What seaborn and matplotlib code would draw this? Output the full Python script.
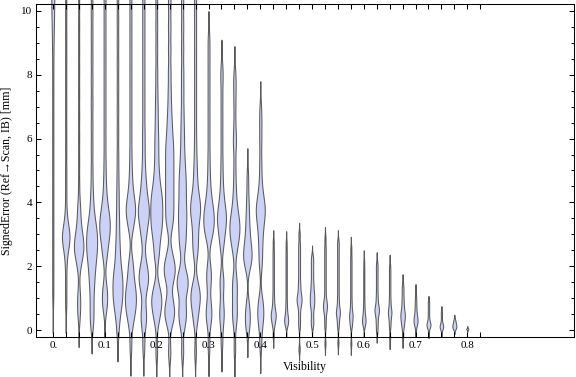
import numpy as np
import matplotlib
matplotlib.use("Agg")
import matplotlib.pyplot as plt
import seaborn as sns
from matplotlib.ticker import MultipleLocator

# visibility bins (x categories)
visibility = [0.0, 0.025, 0.05, 0.075, 0.1, 0.125, 0.15, 0.175, 0.2, 0.225, 0.25,
              0.275, 0.3, 0.325, 0.35, 0.375, 0.4, 0.425, 0.45, 0.475, 0.5, 0.525,
              0.55, 0.575, 0.6, 0.625, 0.65, 0.675, 0.7, 0.725, 0.75, 0.775, 0.8]

# signed error samples [mm] per visibility bin
err_v000 = [1.1, 1.9, 2.7, 3.5, 4.3, 5.1, 5.9, 6.7, 7.5, 8.3, 9.0, 9.5, 9.9, 10.2,
            10.5, 10.8, 11.1, 11.5, 12.0, 12.6, 13.2]
err_v025 = [0.8, 1.4, 2.0, 2.4, 2.6, 2.7, 2.8, 2.9, 2.9, 3.0, 3.1, 3.2, 3.4, 3.8,
            4.4, 5.0, 5.7, 6.4, 7.1, 7.8, 8.5, 9.2, 9.9, 10.6, 11.3, 12.0]
err_v050 = [0.35, 0.6, 0.8, 1.0, 1.2, 1.9, 2.1, 2.2, 2.3, 2.4, 2.5, 2.5, 2.6, 2.6,
            2.7, 2.7, 2.8, 2.9, 3.0, 3.1, 3.2, 3.4, 3.6, 3.8, 4.0, 4.6, 5.3, 6.0,
            6.7, 7.4, 8.1, 8.8, 9.5, 10.2, 10.9, 11.6]
err_v075 = [0.15, 0.4, 0.7, 1.0, 1.3, 1.5, 1.7, 1.9, 2.0, 2.2, 2.3, 2.4, 2.5, 2.6,
            2.7, 2.8, 2.9, 3.0, 3.1, 3.2, 3.3, 3.5, 3.7, 4.0, 4.4, 5.0, 5.7, 6.4,
            7.1, 7.8, 8.5, 9.2, 9.9, 10.6, 11.3, 12.0]
err_v100 = [0.65, 0.8, 1.0, 1.2, 1.4, 2.2, 2.4, 2.6, 2.8, 2.9, 3.0, 3.1, 3.2, 3.3,
            3.4, 3.5, 3.6, 3.7, 3.9, 4.1, 4.4, 4.8, 5.3, 5.9, 6.5, 7.1, 7.7, 8.3,
            8.9, 9.5, 10.1, 10.7, 11.3, 12.0]
err_v125 = [-0.1, 0.3, 0.5, 0.7, 0.8, 0.9, 1.0, 1.1, 1.2, 1.3, 1.4, 1.5, 1.6, 1.7,
            1.8, 1.9, 2.1, 2.3, 2.5, 2.7, 3.0, 3.3, 3.6, 4.0, 4.4, 4.9, 5.5, 6.2,
            6.9, 7.6, 8.3, 9.0, 9.7, 10.4, 11.1, 11.8]
err_v150 = [-0.55, 0.1, 0.3, 0.5, 0.6, 0.7, 0.8, 0.9, 1.0, 1.1, 1.2, 1.3, 1.4, 1.6,
            1.8, 2.0, 2.2, 3.1, 3.3, 3.5, 3.6, 3.7, 3.8, 3.9, 4.0, 4.2, 4.4, 4.7,
            5.1, 5.6, 6.2, 6.8, 7.4, 8.0, 8.6, 9.2, 9.8, 10.4, 11.0, 11.7]
err_v175 = [-0.55, 0.1, 0.3, 0.5, 0.7, 1.2, 1.4, 1.5, 1.6, 1.7, 1.8, 2.0, 2.2, 2.8,
            3.0, 3.2, 3.4, 3.5, 3.6, 3.7, 3.8, 3.9, 4.0, 4.2, 4.4, 4.6, 4.9, 5.3,
            5.8, 6.3, 6.9, 7.5, 8.1, 8.7, 9.3, 9.9, 10.5, 11.1, 11.8]
err_v200 = [-0.7, 0.2, 0.4, 0.6, 0.7, 0.8, 0.9, 1.0, 1.1, 1.2, 1.4, 2.2, 2.4, 2.6,
            2.8, 3.0, 3.1, 3.2, 3.3, 3.4, 3.5, 3.6, 3.7, 3.8, 3.9, 4.0, 4.1, 4.2,
            4.3, 4.4, 4.6, 4.8, 5.0, 5.3, 5.6, 5.9, 6.2, 6.6, 7.0, 7.5, 8.1, 8.8,
            9.5, 10.2, 10.9, 11.6]
err_v225 = [-0.7, 0.2, 0.4, 0.5, 0.6, 0.8, 1.0, 1.5, 1.7, 1.8, 1.9, 2.0, 2.2, 2.4,
            3.2, 3.4, 3.6, 3.8, 4.0, 4.2, 4.4, 4.6, 4.8, 5.0, 5.2, 5.4, 5.6, 5.8,
            6.0, 6.3, 6.6, 7.0, 7.5, 8.1, 8.8, 9.5, 10.2, 10.9, 11.6]
err_v250 = [-0.7, 0.1, 0.3, 0.5, 0.6, 0.8, 1.2, 1.3, 1.4, 1.5, 1.6, 1.7, 1.9, 2.5,
            2.7, 2.9, 3.1, 3.3, 3.5, 3.6, 3.8, 4.0, 4.2, 4.4, 4.6, 4.8, 5.0, 5.3,
            5.6, 6.0, 6.4, 6.9, 7.5, 8.1, 8.8, 9.5, 10.2, 10.9, 11.6]
err_v275 = [-0.7, 0.2, 0.4, 0.6, 0.8, 0.9, 1.0, 1.1, 1.2, 1.3, 1.5, 2.3, 2.5, 2.7,
            2.9, 3.1, 3.3, 3.5, 3.6, 3.7, 3.8, 3.9, 4.0, 4.1, 4.3, 4.5, 4.8, 5.1,
            5.5, 6.0, 6.6, 7.2, 7.8, 8.4, 9.0, 9.6, 10.2, 10.8, 11.5]
err_v300 = [-0.55, 0.2, 0.4, 0.5, 0.7, 0.9, 1.4, 1.6, 1.8, 2.0, 2.8, 3.0, 3.1, 3.2,
            3.3, 3.4, 3.5, 3.6, 3.7, 3.8, 3.9, 4.1, 4.3, 4.6, 5.0, 5.5, 6.1, 6.7,
            7.3, 7.9, 8.5, 9.1]
err_v325 = [-0.4, 0.2, 0.4, 0.6, 0.8, 1.3, 1.5, 1.7, 2.6, 2.8, 3.0, 3.2, 3.3, 3.4,
            3.5, 3.6, 3.7, 3.8, 4.0, 4.2, 4.5, 4.9, 5.4, 6.0, 6.6, 7.2, 7.8, 8.2]
err_v350 = [-0.6, 0.2, 0.4, 0.6, 0.8, 1.1, 1.3, 1.5, 1.7, 2.4, 2.6, 2.8, 2.9, 3.0,
            3.1, 3.2, 3.3, 3.4, 3.5, 3.6, 3.8, 4.0, 4.3, 4.7, 5.2, 5.8, 6.0, 6.5,
            7.1, 7.6, 8.0]
err_v375 = [0.05, 0.2, 0.4, 0.6, 0.8, 2.0, 2.1, 2.2, 2.3, 2.4, 2.5, 2.6, 2.8, 3.0,
            3.2, 3.5, 3.8, 4.2, 4.8]
err_v400 = [-0.45, 0.1, 0.3, 0.5, 0.6, 0.8, 1.0, 2.0, 2.3, 2.6, 2.9, 3.1, 3.3, 3.5,
            3.6, 3.7, 3.8, 3.9, 4.0, 4.2, 4.4, 4.8, 5.3, 5.9, 6.4, 6.9]
err_v425 = [-0.2, 0.1, 0.2, 0.3, 0.35, 0.4, 0.45, 0.5, 0.55, 0.6, 0.7, 0.8, 0.95,
            1.1, 1.3, 1.5, 1.7, 1.9, 2.1, 2.3, 2.5, 2.77]
err_v450 = [0.14, 0.2, 0.25, 0.3, 0.35, 0.4, 0.5, 0.6, 0.75, 0.9, 1.1, 1.3, 1.5,
            1.7, 1.9, 2.1, 2.3, 2.5, 2.74]
err_v475 = [-0.6, 0.1, 0.3, 0.5, 0.7, 0.8, 0.9, 0.95, 1.0, 1.1, 1.2, 1.35, 1.5,
            1.7, 1.9, 2.1, 2.3, 2.5, 2.7, 3.0]
err_v500 = [0.14, 0.3, 0.5, 0.7, 0.8, 0.9, 1.0, 1.1, 1.2, 1.35, 1.5, 1.7, 1.9,
            2.1, 2.29]
err_v525 = [-0.42, 0.1, 0.3, 0.5, 0.6, 0.7, 0.75, 0.8, 0.9, 1.0, 1.2, 1.4, 1.6,
            1.8, 2.0, 2.2, 2.4, 2.6, 2.87]
err_v550 = [-0.4, 0.1, 0.25, 0.4, 0.5, 0.55, 0.6, 0.7, 0.85, 1.0, 1.2, 1.4, 1.6,
            1.8, 2.0, 2.2, 2.4, 2.6, 2.77]
err_v575 = [-0.42, 0.1, 0.2, 0.3, 0.4, 0.45, 0.5, 0.6, 0.75, 0.9, 1.1, 1.3, 1.5,
            1.7, 1.9, 2.1, 2.3, 2.56]
err_v600 = [0.14, 0.2, 0.25, 0.3, 0.35, 0.4, 0.5, 0.6, 0.75, 0.9, 1.1, 1.3, 1.5,
            1.7, 1.9, 2.14]
err_v625 = [-0.04, 0.15, 0.3, 0.45, 0.55, 0.6, 0.65, 0.7, 0.8, 0.95, 1.1, 1.3,
            1.5, 1.7, 1.9, 2.08]
err_v650 = [-0.24, 0.1, 0.25, 0.4, 0.5, 0.55, 0.6, 0.7, 0.85, 1.0, 1.2, 1.4, 1.6,
            1.8, 2.0]
err_v675 = [-0.2, 0.1, 0.2, 0.3, 0.4, 0.45, 0.5, 0.6, 0.7, 0.85, 1.0, 1.2, 1.39]
err_v700 = [0.14, 0.2, 0.25, 0.3, 0.35, 0.4, 0.5, 0.6, 0.75, 0.9, 1.08]
err_v725 = [-0.07, 0.05, 0.1, 0.13, 0.16, 0.19, 0.22, 0.26, 0.32, 0.4, 0.5, 0.6,
            0.7, 0.8, 0.89]
err_v750 = [-0.02, 0.04, 0.07, 0.1, 0.12, 0.15, 0.18, 0.22, 0.3, 0.4, 0.5, 0.57]
err_v775 = [0.02, 0.06, 0.09, 0.12, 0.15, 0.18, 0.22, 0.27, 0.33]
err_v800 = [0.02, 0.03, 0.04, 0.05]

signed_error = [err_v000, err_v025, err_v050, err_v075, err_v100, err_v125,
                err_v150, err_v175, err_v200, err_v225, err_v250, err_v275,
                err_v300, err_v325, err_v350, err_v375, err_v400, err_v425,
                err_v450, err_v475, err_v500, err_v525, err_v550, err_v575,
                err_v600, err_v625, err_v650, err_v675, err_v700, err_v725,
                err_v750, err_v775, err_v800]

# drawing settings: violin max width (px) and kde bandwidth (mm)
violin_px = [3, 7.5, 9.5, 11, 10.5, 10, 11, 11, 12, 11, 11, 10, 10.5, 9, 10, 8.5,
             9, 5, 4, 5, 4.5, 4, 4, 3.5, 3.5, 4.5, 3.5, 4.5, 4, 4, 3.5, 4, 2]
kde_bw = [0.4] + [0.3] * 16 + [0.12] * 12 + [0.06, 0.06, 0.05, 0.025]

fill = "#ccd2f7"
edge = "#5a5a5a"
slot_px = 12.94
slot = 0.025

plt.rcParams["font.family"] = ["Liberation Serif", "DejaVu Serif"]
plt.rcParams["axes.linewidth"] = 0.75

fig = plt.figure(figsize=(5.76, 3.77), dpi=100)
ax = fig.add_axes([36 / 576, 1 - 337 / 377, 538 / 576, 333 / 377])

for v, vals, wpx, h in zip(visibility, signed_error, violin_px, kde_bw):
    vals = np.asarray(vals, dtype=float)
    sns.violinplot(x=np.full(len(vals), v), y=vals, native_scale=True, orient="x",
                   width=wpx / slot_px * slot, inner=None, cut=3, gridsize=400,
                   bw_method=h / vals.std(ddof=1), color=fill, saturation=1,
                   linecolor=edge, linewidth=0.75, ax=ax)

for coll in ax.collections:
    coll.set_clip_on(False)

ax.set_xlim(-0.0334, 1.0062)
ax.set_ylim(-0.219, 10.219)

xticks = visibility + [0.825]
xlabels = []
for i, v in enumerate(xticks):
    if i % 4 == 0:
        xlabels.append("0." if v == 0 else f"{v:g}")
    else:
        xlabels.append("")
ax.set_xticks(xticks, xlabels)
ax.set_yticks([0, 2, 4, 6, 8, 10])
ax.yaxis.set_minor_locator(MultipleLocator(0.5))

ax.tick_params(axis="both", which="both", direction="in", top=True, right=True,
               width=0.75, color="black", labelcolor="black")
ax.tick_params(axis="x", which="major", length=3.3, labelsize=8, pad=3)
ax.tick_params(axis="y", which="major", length=3.4, labelsize=8, pad=2.5)
ax.tick_params(axis="y", which="minor", length=1.9)
for s in ax.spines.values():
    s.set_color("black")

ax.set_xlabel("Visibility", fontsize=8.6, labelpad=8)
ax.set_ylabel("SignedError (Ref\u2192Scan, IB) [mm]", fontsize=8.6, labelpad=6)

fig.savefig("out.png", dpi=100)
